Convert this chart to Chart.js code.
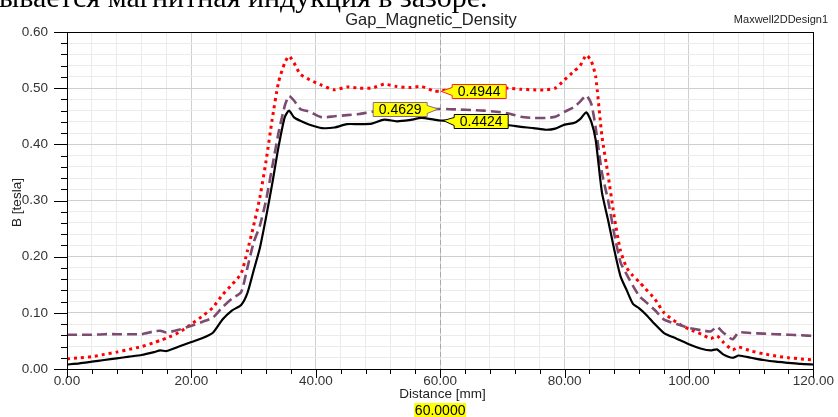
<!DOCTYPE html>
<html>
<head>
<meta charset="utf-8">
<title>Gap_Magnetic_Density</title>
<script src="https://cdn.jsdelivr.net/npm/chart.js@4.4.1/dist/chart.umd.min.js"></script>
<style>
    html, body { margin: 0; padding: 0; background: #fff; }
    #wrap { position: relative; width: 838px; height: 417px; overflow: hidden; }
</style>
</head>
<body>
<div id="wrap">
    <canvas id="gapChart" width="838" height="417"></canvas>
</div>
<script>
// Air-gap flux density along the gap line, three field solutions
const distance = [0, 2, 4, 6, 8, 10, 12, 14, 15, 16, 18, 20, 22, 23.5, 25, 26.5, 28, 29, 30, 31, 32, 33, 34, 35, 35.7,
    36.5, 37.5, 39, 41, 43, 45, 47, 49, 51, 53, 55, 57, 59, 60, 61, 63, 65, 67, 69, 71, 73, 75, 77, 78.5, 80, 81.5,
    82.5, 83.5, 84.3, 85, 86, 87, 88, 89, 90, 91, 92, 93, 94.5, 96, 98, 100, 102, 103.5, 104.5, 105.5, 107, 108,
    110, 112, 114, 116, 118, 120];

const fluxSolid = [0.008, 0.010, 0.013, 0.016, 0.019, 0.022, 0.025, 0.030, 0.033, 0.032, 0.040, 0.048, 0.056, 0.065,
    0.088, 0.104, 0.114, 0.135, 0.175, 0.215, 0.270, 0.330, 0.395, 0.448, 0.460,
    0.448, 0.442, 0.435, 0.429, 0.430, 0.436, 0.436, 0.437, 0.444, 0.441, 0.443, 0.447, 0.444, 0.4424, 0.442,
    0.440, 0.437, 0.435, 0.435, 0.434, 0.431, 0.429, 0.426, 0.428, 0.435, 0.438,
    0.445, 0.457, 0.440, 0.408, 0.315, 0.265, 0.212, 0.165, 0.140, 0.116, 0.108, 0.098, 0.080, 0.064, 0.054, 0.044,
    0.036, 0.033, 0.035, 0.026, 0.020, 0.024, 0.020, 0.016, 0.013, 0.011, 0.009, 0.008];

const fluxDashed = [0.061, 0.061, 0.061, 0.062, 0.062, 0.062, 0.062, 0.067, 0.068, 0.065, 0.070, 0.077, 0.085, 0.092,
    0.110, 0.125, 0.137, 0.180, 0.225, 0.255, 0.300, 0.360, 0.420, 0.468, 0.486,
    0.478, 0.463, 0.458, 0.448, 0.450, 0.452, 0.454, 0.458, 0.460, 0.462, 0.461, 0.466, 0.463, 0.4629, 0.463,
    0.462, 0.461, 0.460, 0.458, 0.455, 0.449, 0.447, 0.447, 0.449, 0.458, 0.466,
    0.476, 0.487, 0.472, 0.430, 0.350, 0.300, 0.240, 0.190, 0.168, 0.148, 0.130, 0.120, 0.105, 0.088, 0.080, 0.073,
    0.069, 0.067, 0.075, 0.065, 0.053, 0.065, 0.064, 0.063, 0.062, 0.061, 0.060, 0.059];

const fluxDotted = [0.018, 0.020, 0.022, 0.026, 0.030, 0.035, 0.040, 0.047, 0.051, 0.055, 0.065, 0.080, 0.096, 0.110,
    0.132, 0.150, 0.170, 0.210, 0.255, 0.305, 0.370, 0.445, 0.510, 0.545, 0.557,
    0.545, 0.525, 0.515, 0.505, 0.497, 0.502, 0.500, 0.500, 0.507, 0.503, 0.501, 0.503, 0.495, 0.4944, 0.497,
    0.499, 0.500, 0.500, 0.500, 0.500, 0.498, 0.497, 0.497, 0.500, 0.515, 0.530,
    0.540, 0.559, 0.548, 0.521, 0.415, 0.345, 0.270, 0.210, 0.180, 0.166, 0.155, 0.143, 0.125, 0.100, 0.083, 0.071,
    0.062, 0.054, 0.059, 0.048, 0.034, 0.039, 0.032, 0.027, 0.023, 0.020, 0.018, 0.016];

const xLabels = [0, 20, 40, 60, 80, 100, 120];
const yLabels = [0, 0.1, 0.2, 0.3, 0.4, 0.5, 0.6];
const cursorAt = 60;

const FONT = '"Liberation Sans", Arial, sans-serif';
const isOn = (v, list) => list.some(t => Math.abs(v - t) < 1e-6);

const toPoints = (arr) => distance.map((d, i) => ({ x: d, y: arr[i] }));

// Yellow value tag pointing at a curve
function drawTag(ctx, text, tipX, tipY, side, stroke) {
    const w = 54, h = 14, gap = 11;
    const left = side > 0 ? tipX + gap : tipX - gap - w;
    const right = left + w;
    const top = Math.round(tipY - h / 2) + 0.5;
    const bottom = top + h;
    const edge = side > 0 ? left : right;

    ctx.save();
    ctx.beginPath();
    ctx.moveTo(tipX, tipY);
    ctx.lineTo(edge, top + 3);
    ctx.lineTo(edge, top);
    ctx.lineTo(side > 0 ? right : left, top);
    ctx.lineTo(side > 0 ? right : left, bottom);
    ctx.lineTo(edge, bottom);
    ctx.lineTo(edge, bottom - 3);
    ctx.closePath();
    ctx.fillStyle = '#ffff00';
    ctx.fill();
    ctx.strokeStyle = stroke;
    ctx.lineWidth = 1;
    ctx.stroke();
    ctx.fillStyle = '#000';
    ctx.font = '14px ' + FONT;
    ctx.textAlign = 'center';
    ctx.textBaseline = 'middle';
    ctx.fillText(text, (left + right) / 2, top + h / 2 + 1);
    ctx.restore();
}

const decor = {
    id: 'decor',
    beforeDatasetsDraw(chart) {
        const { ctx, chartArea: a, scales: { x } } = chart;
        const px = Math.round(x.getPixelForValue(cursorAt)) + 0.5;
        ctx.save();
        ctx.strokeStyle = '#a8a8a8';
        ctx.lineWidth = 1;
        ctx.setLineDash([5, 3]);
        ctx.beginPath();
        ctx.moveTo(px, a.top);
        ctx.lineTo(px, a.bottom);
        ctx.stroke();
        ctx.restore();
    },
    afterDraw(chart) {
        const { ctx, chartArea: a, scales: { x, y } } = chart;
        ctx.save();

        // plot frame
        ctx.strokeStyle = '#000';
        ctx.lineWidth = 1;
        ctx.strokeRect(Math.round(a.left) + 0.5, Math.round(a.top) + 0.5,
            Math.round(a.right - a.left), Math.round(a.bottom - a.top));

        // outward tick marks, long on labelled values
        ctx.beginPath();
        y.ticks.forEach(t => {
            const py = Math.round(y.getPixelForValue(t.value)) + 0.5;
            const len = isOn(t.value, yLabels) ? 13 : 6;
            ctx.moveTo(a.left - len, py);
            ctx.lineTo(a.left, py);
        });
        x.ticks.forEach(t => {
            const px = Math.round(x.getPixelForValue(t.value)) + 0.5;
            const len = isOn(t.value, xLabels) ? 9 : 5;
            ctx.moveTo(px, a.bottom);
            ctx.lineTo(px, a.bottom + len);
        });
        ctx.stroke();

        // headings and axis titles
        ctx.fillStyle = '#000';
        ctx.font = '30px "Liberation Serif", "Times New Roman", serif';
        ctx.textAlign = 'left';
        ctx.textBaseline = 'alphabetic';
        ctx.fillText('ывается магнитная индукция в зазоре.', -1, 7);

        ctx.fillStyle = '#222';
        ctx.font = '16.5px ' + FONT;
        ctx.textAlign = 'center';
        ctx.fillText('Gap_Magnetic_Density', 431, 24.5);

        ctx.font = '11px ' + FONT;
        ctx.textAlign = 'right';
        ctx.fillText('Maxwell2DDesign1', 828, 22.5);

        ctx.font = '13.5px ' + FONT;
        ctx.textAlign = 'center';
        ctx.fillText('Distance [mm]', 442.5, 398);

        ctx.save();
        ctx.translate(20.5, 202.5);
        ctx.rotate(-Math.PI / 2);
        ctx.fillText('B [tesla]', 0, 0);
        ctx.restore();

        // cursor readout under the axis
        const cx = x.getPixelForValue(cursorAt);
        ctx.fillStyle = '#ffff00';
        ctx.fillRect(cx - 26, 403, 52, 15);
        ctx.fillStyle = '#000';
        ctx.font = '14px ' + FONT;
        ctx.textBaseline = 'middle';
        ctx.fillText(cursorAt.toFixed(4), cx, 411);
        ctx.restore();

        // value tags where the cursor crosses each curve
        const idx = distance.indexOf(cursorAt);
        const tags = [
            { ds: 2, side: 1, dx: 1, stroke: '#ff2020' },
            { ds: 1, side: -1, dx: -2, stroke: '#8a6a80' },
            { ds: 0, side: 1, dx: 3, stroke: '#000000' }
        ];
        tags.forEach(t => {
            const v = chart.data.datasets[t.ds].data[idx].y;
            const py = y.getPixelForValue(v);
            drawTag(ctx, v.toFixed(4), cx + t.dx, py, t.side, t.stroke);
        });
    }
};

const gridColor = (list) => (c) => isOn(c.tick.value, list) ? '#cfcfcf' : '#ebebeb';

new Chart(document.getElementById('gapChart'), {
    type: 'line',
    data: {
        datasets: [
            {
                label: 'B solid',
                data: toPoints(fluxSolid),
                borderColor: '#000000',
                borderWidth: 2.2,
                pointRadius: 0,
                tension: 0.2
            },
            {
                label: 'B dashed',
                data: toPoints(fluxDashed),
                borderColor: '#7d4a70',
                borderWidth: 2.6,
                borderDash: [10, 5],
                pointRadius: 0,
                tension: 0.2
            },
            {
                label: 'B dotted',
                data: toPoints(fluxDotted),
                borderColor: '#ff0000',
                borderWidth: 3,
                borderDash: [3, 4],
                pointRadius: 0,
                tension: 0.2
            }
        ]
    },
    options: {
        responsive: false,
        animation: false,
        parsing: true,
        layout: { autoPadding: false, padding: { top: 32, right: 21, left: 0, bottom: 0 } },
        plugins: {
            legend: { display: false },
            tooltip: { enabled: false },
            title: { display: false }
        },
        scales: {
            x: {
                type: 'linear',
                min: 0,
                max: 120,
                afterFit: (s) => { s.height = 48; },
                grid: { color: gridColor(xLabels), drawTicks: false },
                border: { color: '#000', width: 1 },
                ticks: {
                    stepSize: 4,
                    autoSkip: false,
                    maxRotation: 0,
                    padding: 4,
                    color: '#333',
                    font: { family: FONT, size: 13.5 },
                    callback: (v) => isOn(v, xLabels) ? v.toFixed(2) : ''
                }
            },
            y: {
                min: 0,
                max: 0.6,
                afterFit: (s) => { s.width = 67; },
                grid: { color: gridColor(yLabels), drawTicks: false },
                border: { color: '#000', width: 1 },
                ticks: {
                    stepSize: 0.02,
                    autoSkip: false,
                    padding: 19,
                    color: '#333',
                    font: { family: FONT, size: 13.5 },
                    callback: (v) => isOn(v, yLabels) ? v.toFixed(2) : ''
                }
            }
        }
    },
    plugins: [decor]
});
</script>
</body>
</html>
